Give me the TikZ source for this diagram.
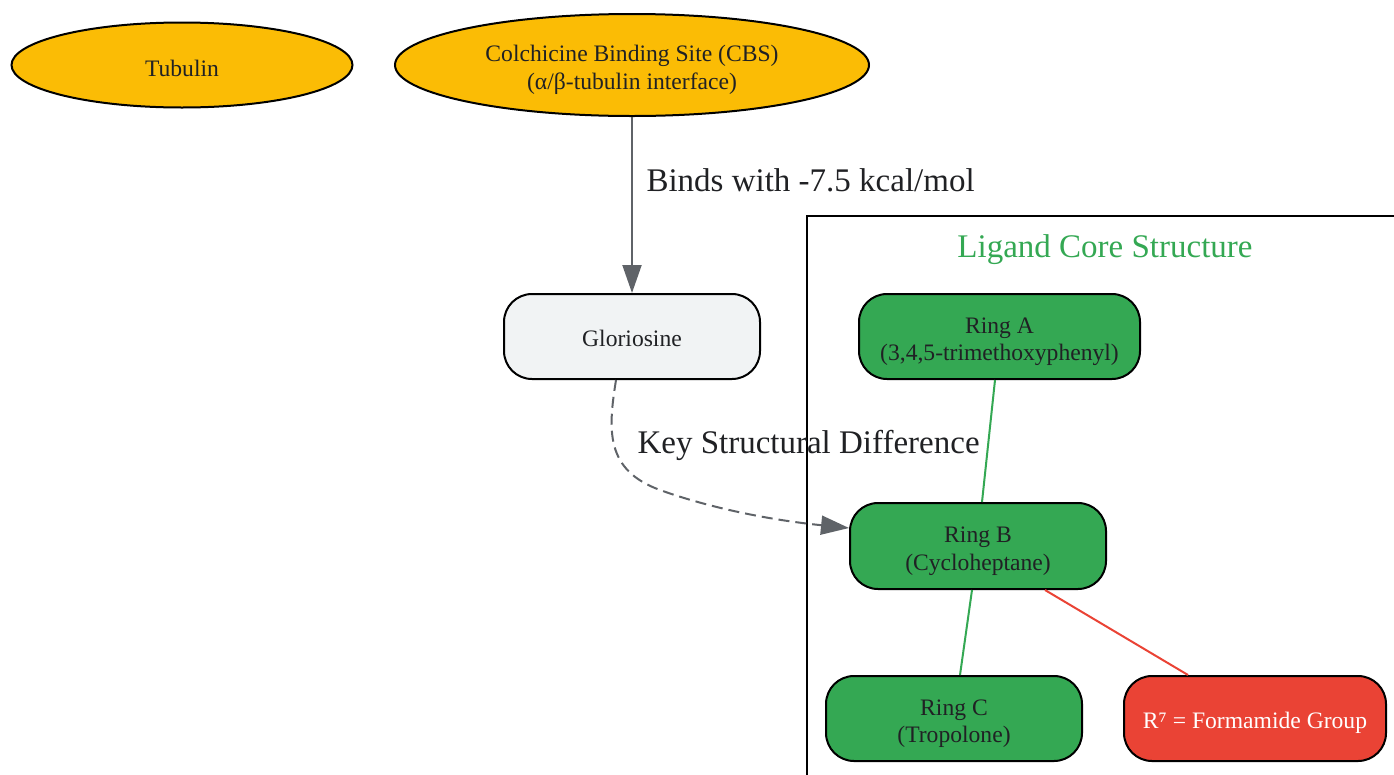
\documentclass[tikz,border=0pt]{standalone}
\usepackage{fontspec}
\setmainfont{Liberation Serif}
\usetikzlibrary{shapes.geometric,arrows.meta}
\definecolor{gyellow}{HTML}{FBBC05}
\definecolor{ggreen}{HTML}{34A853}
\definecolor{gred}{HTML}{EA4335}
\definecolor{ggray}{HTML}{5F6368}
\definecolor{glight}{HTML}{F1F3F4}
\definecolor{txt}{HTML}{202124}
\newcommand{\nodetext}[2][10pt]{\raisebox{0pt}[\dimexpr\height+#1\relax]{\begin{tabular}{@{}c@{}}#2\end{tabular}}}
\tikzset{
  ell/.style={ellipse, draw=black, line width=2pt, fill=gyellow, inner sep=0pt, text=txt, font=\fontsize{23.6}{27.5}\selectfont, align=center},
  rbox/.style={rectangle, rounded corners=28pt, draw=black, line width=2pt, inner sep=0pt, font=\fontsize{23.6}{27.5}\selectfont, align=center, text=txt},
  edgelbl/.style={font=\fontsize{33}{36}\selectfont, text=txt, anchor=west},
  arr/.style={-{Triangle[length=28pt,width=19pt,fill=ggray]}, line width=2pt, draw=ggray},
  link/.style={line width=2pt},
}
\begin{document}
\begin{tikzpicture}[x=1pt,y=-1pt]
\useasboundingbox (0,0) rectangle (1394,774);
\clip (0,0) rectangle (1394,774);
% cluster
\draw[line width=2pt] (1420,216) -- (807,216) -- (807,800);
\node[font=\fontsize{33}{36}\selectfont, text=ggreen] (title) at (1105,250) {Ligand Core Structure};
% nodes
\node[ell, minimum width=341pt, minimum height=85pt] (tub) at (182,65) {\nodetext[12pt]{Tubulin}};
\node[ell, minimum width=474pt, minimum height=102pt] (cbs) at (632,65) {\nodetext{Colchicine Binding Site (CBS)\\(α/β-tubulin interface)}};
\node[rbox, fill=glight, minimum width=256pt, minimum height=85pt] (glor) at (632,336.5) {\nodetext[8pt]{Gloriosine}};
\node[rbox, fill=ggreen, minimum width=281pt, minimum height=85pt] (ringa) at (999.5,336.5) {\nodetext{Ring A\\(3,4,5-trimethoxyphenyl)}};
\node[rbox, fill=ggreen, minimum width=256pt, minimum height=86pt] (ringb) at (978,546) {\nodetext{Ring B\\(Cycloheptane)}};
\node[rbox, fill=ggreen, minimum width=256pt, minimum height=85pt] (ringc) at (954,718.5) {\nodetext{Ring C\\(Tropolone)}};
\node[rbox, fill=gred, text=white, minimum width=262pt, minimum height=85pt] (r7) at (1255,718.5) {\nodetext[8pt]{R⁷ = Formamide Group}};
% edges
\draw[arr] (cbs.south) -- (glor.north);
\node[edgelbl] (lbl1) at (643,180) {Binds with -7.5 kcal/mol};
\draw[arr, dash pattern=on 11pt off 6pt] ([xshift=-16pt]glor.south) .. controls (608,430) and (605,470) .. (660,490) .. controls (710,508) and (770,520) .. ([yshift=18pt]ringb.west);
\node[edgelbl] (lbl2) at (634,445) {Key Structural Difference};
\draw[link, ggreen] ([xshift=-4.5pt]ringa.south) -- ([xshift=4pt]ringb.north);
\draw[link, ggreen] ([xshift=-6pt]ringb.south) -- ([xshift=6pt]ringc.north);
\draw[link, gred] ([xshift=67pt]ringb.south) -- ([xshift=-67pt]r7.north);
\end{tikzpicture}
\end{document}
